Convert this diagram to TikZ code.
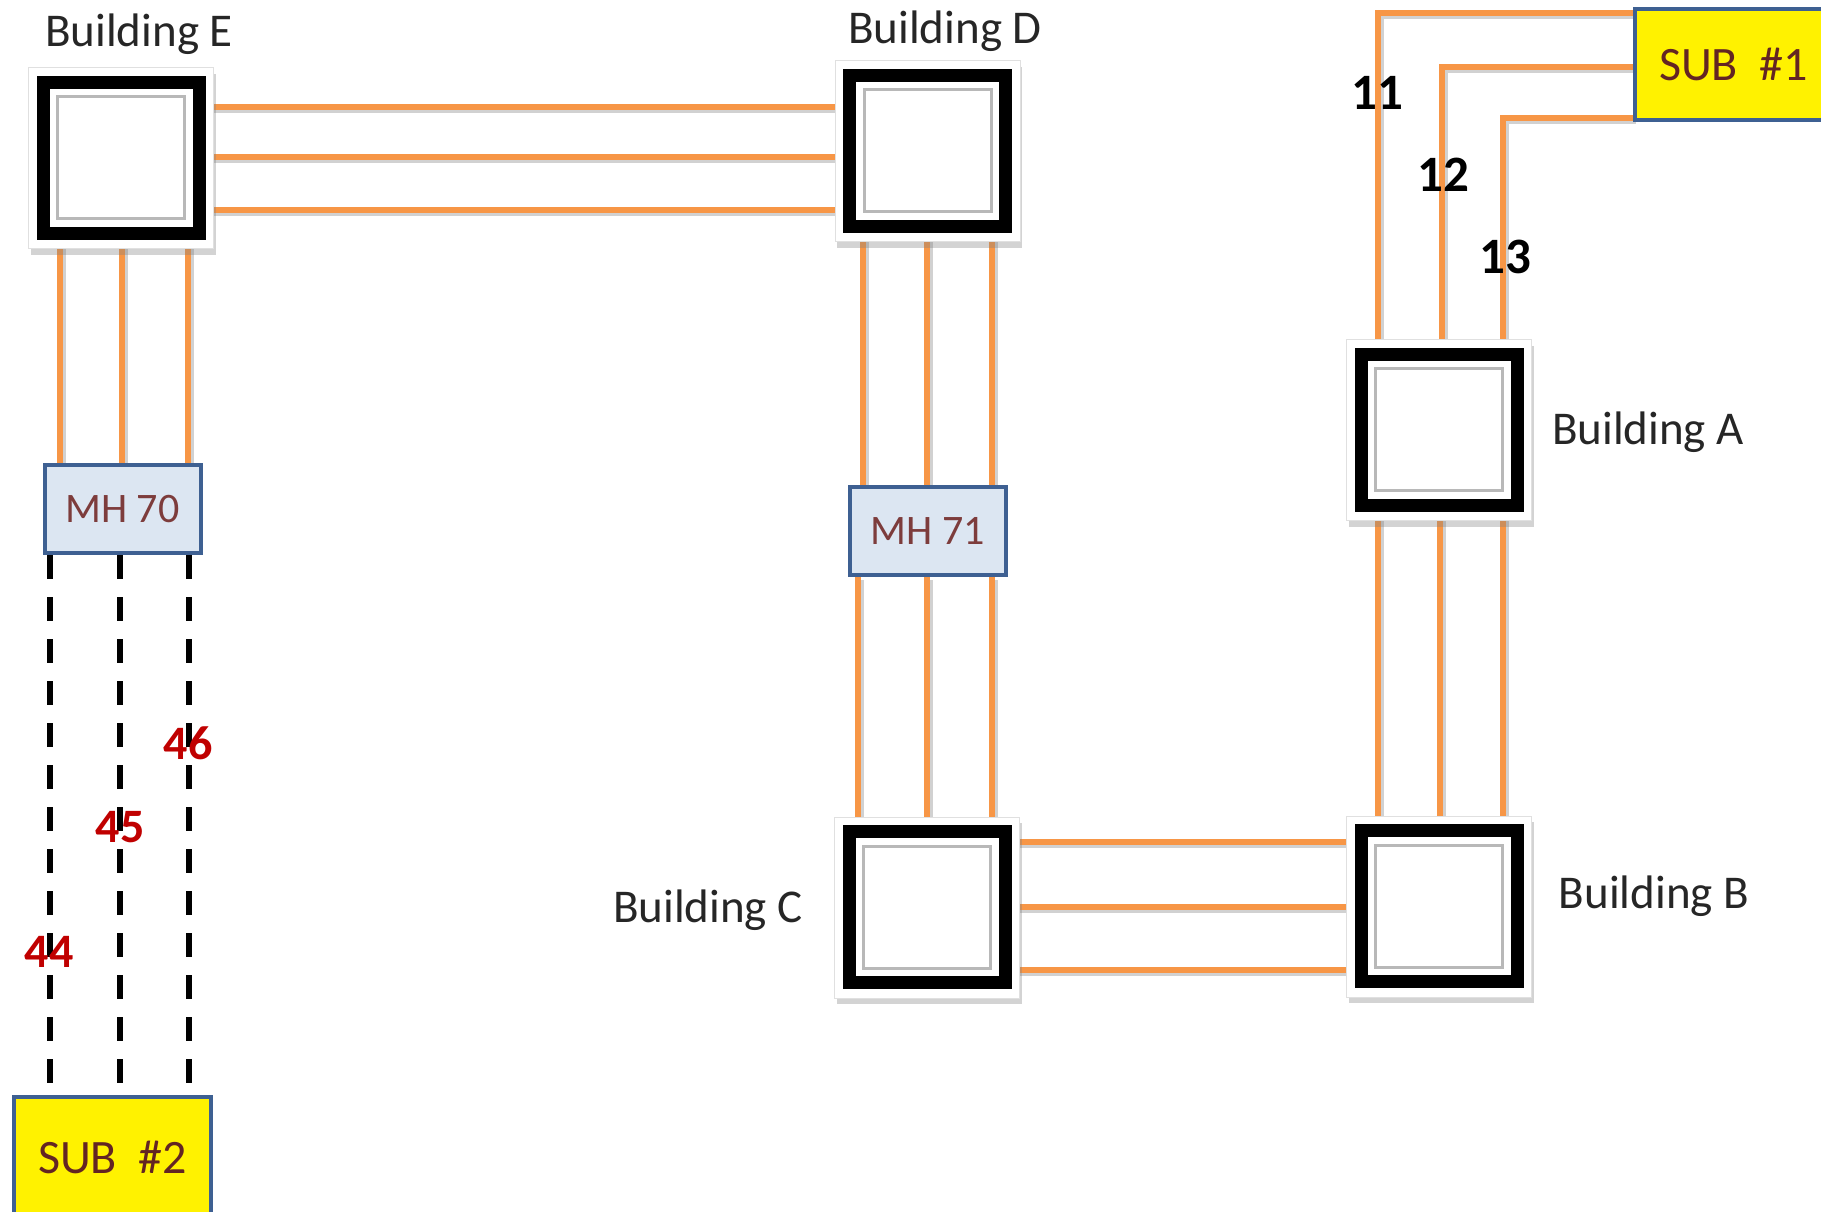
\documentclass[tikz,border=0pt]{standalone}
\usepackage{fontspec}
\setmainfont{Carlito}
\usetikzlibrary{shadows}
\definecolor{cablecol}{HTML}{F79646}
\definecolor{bordblue}{RGB}{62,96,146}
\definecolor{mhfill}{HTML}{DCE6F2}
\definecolor{mhtext}{RGB}{125,60,60}
\definecolor{subtext}{RGB}{99,37,35}
\definecolor{numred}{HTML}{C00000}
\pgfdeclarelayer{cables}
\pgfdeclarelayer{plates}
\pgfsetlayers{cables,plates,main}
\begin{document}
\begin{tikzpicture}[x=1pt,y=-1pt,
  bldg/.style={draw=black, line width=13pt, fill=white, minimum width=156pt, minimum height=151pt, inner sep=0pt},
  plate/.style={fill=white, draw=black!12, line width=1pt, drop shadow={shadow xshift=2pt, shadow yshift=-6pt, opacity=0.35}},
  innersq/.style={draw=black!28, line width=3pt},
  fiber/.style={draw=cablecol, line width=6pt},
  fibershadow/.style={draw=black!18, line width=6pt},
  dashline/.style={draw=black, line width=6pt, dash pattern=on 24pt off 18pt},
  mhbox/.style={draw=bordblue, line width=4pt, fill=mhfill, minimum width=156pt, minimum height=88pt, inner sep=0pt, text=mhtext, font=\fontsize{42}{50}\selectfont},
  subbox/.style={draw=bordblue, line width=4pt, fill=yellow, minimum width=197pt, inner sep=0pt, text=subtext, font=\fontsize{48}{58}\selectfont},
  bldglabel/.style={anchor=base, inner sep=0pt, text=black!85, font=\fontsize{47}{56}\selectfont},
  numlabel/.style={inner sep=0pt, font=\fontsize{51}{60}\selectfont\bfseries},
  rednum/.style={inner sep=0pt, text=numred, font=\fontsize{48}{58}\selectfont\bfseries}
]
\useasboundingbox (0,0) rectangle (1821,1211);

% buildings
\node[bldg] (E) at (121,157.5) {};
\node[bldg] (D) at (927.5,150.5) {};
\node[bldg] (A) at (1439,429.5) {};
\node[bldg] (B) at (1439,906) {};
\node[bldg] (C) at (927,907) {};
\foreach \n in {A,B,C,D,E}{
  \draw[innersq] ([shift={(21pt,21pt)}]\n.south west) rectangle ([shift={(-21pt,-21pt)}]\n.north east);
}
\begin{pgfonlayer}{plates}
\foreach \n in {A,B,C,D,E}{
  \draw[plate] ([shift={(-8pt,-9pt)}]\n.south west) rectangle ([shift={(8pt,8pt)}]\n.north east);
}
\end{pgfonlayer}

% manholes and substations
\node[mhbox] (M70) at (122.5,509) {MH 70};
\node[mhbox] (M71) at (928,531) {MH 71};
\node[subbox, minimum height=111pt] (S1) at (1733.5,64.5) {SUB\ \ \#1};
\node[subbox, minimum height=120pt] (S2) at (112.5,1157) {SUB\ \ \#2};

% labels
\node[bldglabel] (lE) at (139,46) {Building E};
\node[bldglabel] (lD) at (945,43) {Building D};
\node[bldglabel] (lA) at (1648,444) {Building A};
\node[bldglabel] (lB) at (1654,908) {Building B};
\node[bldglabel] (lC) at (708,922) {Building C};

% cables
\begin{pgfonlayer}{cables}
\begin{scope}[transform canvas={shift={(2.5pt,-3pt)}}]
\foreach \y in {107,157,210}{ \draw[fibershadow] (E.east |- 0,\y) -- (D.west |- 0,\y); }
\foreach \y in {842,907,970}{ \draw[fibershadow] (C.east |- 0,\y) -- (B.west |- 0,\y); }
\foreach \x in {60,122,188}{ \draw[fibershadow] (E.south -| \x,0) -- (M70.north -| \x,0); }
\foreach \x in {863,927,992}{ \draw[fibershadow] (D.south -| \x,0) -- (M71.north -| \x,0); }
\foreach \x in {858,927,992}{ \draw[fibershadow] (M71.south -| \x,0) -- (C.north -| \x,0); }
\foreach \x in {1378,1440,1503}{ \draw[fibershadow] (A.south -| \x,0) -- (B.north -| \x,0); }
\draw[fibershadow] (S1.west |- 0,13) -| (A.north -| 1378,0);
\draw[fibershadow] (S1.west |- 0,67) -| (A.north -| 1442,0);
\draw[fibershadow] (S1.west |- 0,118) -| (A.north -| 1503,0);
\end{scope}
\foreach \y in {107,157,210}{ \draw[fiber] (E.east |- 0,\y) -- (D.west |- 0,\y); }
\foreach \y in {842,907,970}{ \draw[fiber] (C.east |- 0,\y) -- (B.west |- 0,\y); }
\foreach \x in {60,122,188}{ \draw[fiber] (E.south -| \x,0) -- (M70.north -| \x,0); }
\foreach \x in {863,927,992}{ \draw[fiber] (D.south -| \x,0) -- (M71.north -| \x,0); }
\foreach \x in {858,927,992}{ \draw[fiber] (M71.south -| \x,0) -- (C.north -| \x,0); }
\foreach \x in {1378,1440,1503}{ \draw[fiber] (A.south -| \x,0) -- (B.north -| \x,0); }
\draw[fiber] (S1.west |- 0,13) -| (A.north -| 1378,0);
\draw[fiber] (S1.west |- 0,67) -| (A.north -| 1442,0);
\draw[fiber] (S1.west |- 0,118) -| (A.north -| 1503,0);
\foreach \x in {50,120,189}{ \draw[dashline] (M70.south -| \x,0) -- (S2.north -| \x,0); }
\end{pgfonlayer}

% cable numbers
\node[numlabel] (n11) at (1377,93) {11};
\node[numlabel] (n12) at (1443,175) {12};
\node[numlabel] (n13) at (1505,257) {13};
\node[rednum] (n46) at (188,743) {46};
\node[rednum] (n45) at (120,827) {45};
\node[rednum] (n44) at (49,952) {44};
\end{tikzpicture}
\end{document}
